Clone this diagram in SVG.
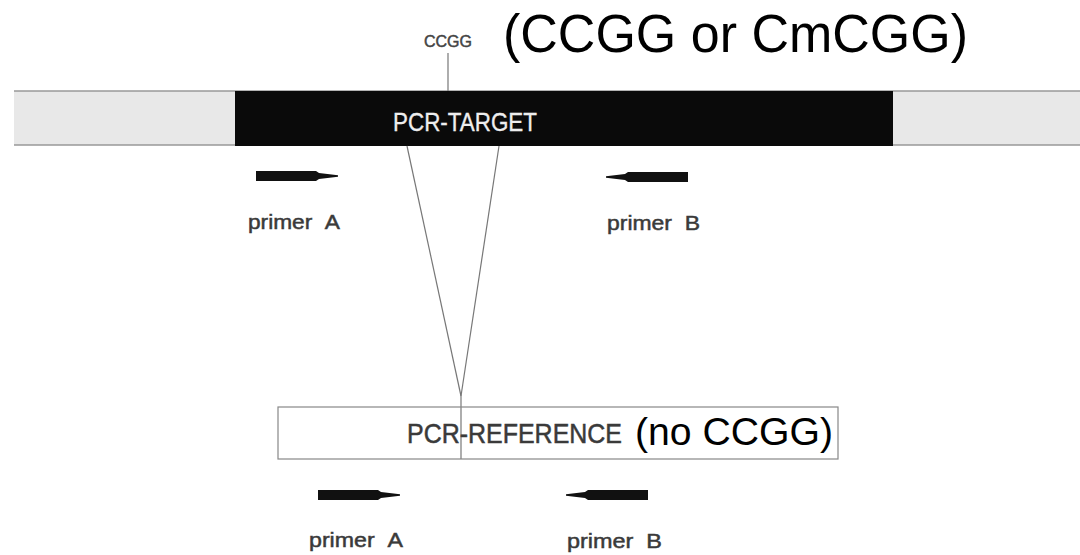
<svg xmlns="http://www.w3.org/2000/svg" width="1080" height="555" viewBox="0 0 1080 555">
<style>
.lbl{font-family:"Liberation Sans",Arial,sans-serif;fill:#3a3a3a;stroke:#3a3a3a;stroke-width:0.5;}
.big{font-family:"Liberation Sans",Arial,sans-serif;fill:#000;}
.thin{stroke:#777;stroke-width:1.2;fill:none;}
.arr{fill:#111;}
</style>
<defs>
<path id="arrR" d="M0,-5 H60 L63,-3 L82,-0.8 L82,0.8 L63,3 L60,5 H0 Z"/>
<path id="arrL" d="M0,-5 H-60 L-63,-3 L-82,-0.8 L-82,0.8 L-63,3 L-60,5 H0 Z"/>
</defs>
<rect width="1080" height="555" fill="#fff"/>
<g id="target">
<rect x="14" y="91" width="221" height="54" fill="#e8e8e8"/>
<rect x="893" y="91" width="187" height="54" fill="#e8e8e8"/>
<line x1="14" y1="91" x2="1080" y2="91" stroke="#999" stroke-width="1.5"/>
<line x1="14" y1="145" x2="1080" y2="145" stroke="#999" stroke-width="1.5"/>
<rect x="235" y="91" width="658" height="55" fill="#0a0a0a"/>
<text x="393" y="131" class="lbl" style="fill:#eee;stroke:#eee;stroke-width:0.3" font-size="25" textLength="144" lengthAdjust="spacingAndGlyphs">PCR-TARGET</text>
</g>
<g id="ccgg-site">
<text x="424" y="47" class="lbl" font-size="17" style="fill:#444;stroke:#444;stroke-width:0.5" textLength="48" lengthAdjust="spacingAndGlyphs">CCGG</text>
<line x1="448" y1="53" x2="448" y2="91" class="thin"/>
<text x="503" y="52" class="big" font-size="53" textLength="465" lengthAdjust="spacingAndGlyphs">(CCGG or CmCGG)</text>
</g>
<g id="primers-top">
<use href="#arrR" x="256" y="176" class="arr"/>
<use href="#arrL" x="688" y="177" class="arr"/>
<text x="248" y="229" class="lbl" font-size="21" textLength="92" lengthAdjust="spacingAndGlyphs">primer<tspan>&#160;&#160;A</tspan></text>
<text x="607" y="230" class="lbl" font-size="21" textLength="93" lengthAdjust="spacingAndGlyphs">primer<tspan>&#160;&#160;B</tspan></text>
</g>
<g id="connectors">
<line x1="407" y1="146" x2="461" y2="396" class="thin"/>
<line x1="499" y1="146" x2="461" y2="396" class="thin"/>
<line x1="461" y1="396" x2="461" y2="459" class="thin"/>
</g>
<g id="reference">
<rect x="278" y="407" width="560" height="52" fill="none" stroke="#888" stroke-width="1.2"/>
<text x="407" y="443" class="lbl" font-size="28" textLength="215" lengthAdjust="spacingAndGlyphs">PCR-REFERENCE</text>
<text x="635" y="445" class="big" font-size="38" textLength="198" lengthAdjust="spacingAndGlyphs">(no CCGG)</text>
</g>
<g id="primers-bottom">
<use href="#arrR" x="318" y="495" class="arr"/>
<use href="#arrL" x="648" y="495" class="arr"/>
<text x="309" y="547" class="lbl" font-size="21" textLength="94" lengthAdjust="spacingAndGlyphs">primer<tspan>&#160;&#160;A</tspan></text>
<text x="567" y="548" class="lbl" font-size="21" textLength="95" lengthAdjust="spacingAndGlyphs">primer<tspan>&#160;&#160;B</tspan></text>
</g>
</svg>
